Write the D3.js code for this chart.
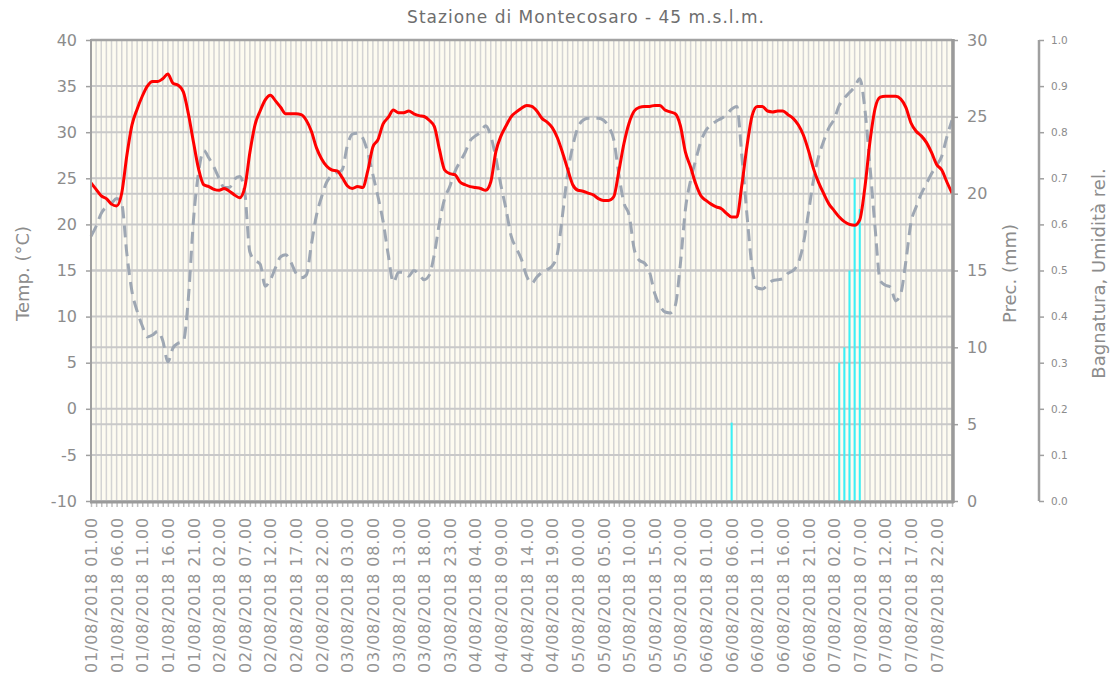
<!DOCTYPE html>
<html>
<head>
<meta charset="utf-8">
<script src="https://cdn.jsdelivr.net/npm/d3@7"></script>
<style>
  body { margin: 0; background: #fff; }
  svg { display: block; font-family: "DejaVu Sans", Verdana, sans-serif; }
</style>
</head>
<body>
<div id="chart"></div>
<script>
// hourly readings, 01/08/2018 01.00 -> 08/08/2018 01.00
const temperature = [
  24.5, 23.8, 23.1, 22.8, 22.2, 22.0, 23.4, 27.5, 30.8, 32.5,
  33.9, 35.0, 35.5, 35.5, 35.8, 36.3, 35.3, 35.1, 34.4, 32.0,
  28.9, 26.0, 24.3, 24.1, 23.8, 23.7, 23.9, 23.6, 23.2, 22.9,
  24.0, 27.8, 30.8, 32.3, 33.5, 34.0, 33.4, 32.7, 32.0, 32.0,
  32.0, 31.9, 31.3, 30.1, 28.3, 27.1, 26.3, 25.9, 25.8, 25.1,
  24.2, 23.9, 24.1, 24.0, 25.8, 28.4, 29.2, 30.9, 31.6, 32.4,
  32.1, 32.1, 32.3, 32.0, 31.8, 31.7, 31.3, 30.6, 28.1, 25.9,
  25.5, 25.4, 24.6, 24.3, 24.1, 24.0, 23.9, 23.7, 24.6, 27.9,
  29.6, 30.7, 31.7, 32.2, 32.6, 32.9, 32.8, 32.3, 31.5, 31.1,
  30.5, 29.4, 27.8, 26.0, 24.3, 23.7, 23.6, 23.4, 23.2, 22.8,
  22.6, 22.6, 23.0, 25.8, 28.8, 31.0, 32.3, 32.7, 32.8, 32.8,
  32.9, 32.9, 32.4, 32.2, 32.0, 30.7, 27.8, 26.2, 24.4, 23.1,
  22.6, 22.2, 21.9, 21.7, 21.2, 20.8, 20.8, 24.3, 28.5, 31.8,
  32.8, 32.8, 32.3, 32.2, 32.3, 32.3, 31.9, 31.5, 30.8, 29.7,
  28.0, 26.0, 24.5, 23.3, 22.2, 21.5, 20.8, 20.3, 20.0, 19.9,
  20.5, 24.0, 29.0, 32.6, 33.8, 33.9, 33.9, 33.9, 33.6, 32.7,
  31.0, 30.1, 29.6, 28.9, 27.8, 26.5, 25.9, 24.6, 23.4
];

const humidity = [
  0.574, 0.596, 0.624, 0.638, 0.646, 0.656, 0.644, 0.536, 0.454, 0.412,
  0.380, 0.356, 0.360, 0.368, 0.348, 0.302, 0.332, 0.342, 0.346, 0.440,
  0.610, 0.714, 0.760, 0.744, 0.724, 0.700, 0.680, 0.680, 0.698, 0.704,
  0.670, 0.540, 0.522, 0.514, 0.466, 0.480, 0.506, 0.530, 0.534, 0.518,
  0.494, 0.484, 0.490, 0.556, 0.620, 0.660, 0.692, 0.706, 0.712, 0.718,
  0.770, 0.796, 0.798, 0.788, 0.756, 0.708, 0.660, 0.606, 0.534, 0.474,
  0.496, 0.496, 0.488, 0.500, 0.492, 0.480, 0.490, 0.536, 0.604, 0.656,
  0.682, 0.714, 0.736, 0.756, 0.782, 0.792, 0.800, 0.814, 0.792, 0.744,
  0.684, 0.632, 0.574, 0.548, 0.524, 0.488, 0.472, 0.486, 0.496, 0.502,
  0.510, 0.536, 0.620, 0.710, 0.770, 0.810, 0.826, 0.830, 0.830, 0.830,
  0.826, 0.812, 0.784, 0.708, 0.646, 0.620, 0.546, 0.522, 0.516, 0.496,
  0.450, 0.424, 0.410, 0.408, 0.424, 0.514, 0.634, 0.696, 0.740, 0.780,
  0.804, 0.816, 0.824, 0.830, 0.838, 0.850, 0.856, 0.748, 0.620, 0.506,
  0.462, 0.460, 0.468, 0.478, 0.480, 0.482, 0.494, 0.500, 0.516, 0.558,
  0.626, 0.698, 0.748, 0.782, 0.810, 0.828, 0.858, 0.874, 0.886, 0.898,
  0.916, 0.850, 0.726, 0.592, 0.478, 0.468, 0.464, 0.434, 0.450, 0.520,
  0.604, 0.638, 0.666, 0.688, 0.710, 0.728, 0.748, 0.790, 0.826
];

const precHours = [
  "06/08/2018 06.00", "07/08/2018 03.00", "07/08/2018 04.00",
  "07/08/2018 05.00", "07/08/2018 06.00", "07/08/2018 07.00"
];
const precValues = [5.1, 9.0, 10.0, 15.0, 21.0, 19.0];

const tickLabels = [
  "01/08/2018 01.00", "01/08/2018 06.00", "01/08/2018 11.00", "01/08/2018 16.00", "01/08/2018 21.00",
  "02/08/2018 02.00", "02/08/2018 07.00", "02/08/2018 12.00", "02/08/2018 17.00", "02/08/2018 22.00",
  "03/08/2018 03.00", "03/08/2018 08.00", "03/08/2018 13.00", "03/08/2018 18.00", "03/08/2018 23.00",
  "04/08/2018 04.00", "04/08/2018 09.00", "04/08/2018 14.00", "04/08/2018 19.00",
  "05/08/2018 00.00", "05/08/2018 05.00", "05/08/2018 10.00", "05/08/2018 15.00", "05/08/2018 20.00",
  "06/08/2018 01.00", "06/08/2018 06.00", "06/08/2018 11.00", "06/08/2018 16.00", "06/08/2018 21.00",
  "07/08/2018 02.00", "07/08/2018 07.00", "07/08/2018 12.00", "07/08/2018 17.00", "07/08/2018 22.00"
];

const tempTicks = [-10, -5, 0, 5, 10, 15, 20, 25, 30, 35, 40];
const precTicks = [0, 5, 10, 15, 20, 25, 30];
const humTicks = [0, 0.1, 0.2, 0.3, 0.4, 0.5, 0.6, 0.7, 0.8, 0.9, 1.0];

const width = 1111;
const height = 675;
const plot = { left: 91, right: 952, top: 40, bottom: 501 };

const fmt = d3.timeFormat("%d/%m/%Y %H.%M");
const start = new Date(2018, 7, 1, 1);
const hours = temperature.map((_, i) => fmt(d3.timeHour.offset(start, i)));

const svg = d3.select("#chart")
  .append("svg")
  .attr("width", width)
  .attr("height", height);

const x = d3.scalePoint().domain(hours).range([plot.left, plot.right]);
const yTemp = d3.scaleLinear().domain([-10, 40]).range([plot.bottom, plot.top]);
const yPrec = d3.scaleLinear().domain([0, 30]).range([plot.bottom, plot.top]);
const yHum = d3.scaleLinear().domain([0, 1]).range([plot.bottom, plot.top]);

// plot background
svg.append("rect")
  .attr("x", plot.left)
  .attr("y", plot.top)
  .attr("width", plot.right - plot.left)
  .attr("height", plot.bottom - plot.top)
  .attr("fill", "#fdfbf0");

// vertical grid, one per hour
svg.append("g")
  .selectAll("line")
  .data(hours)
  .join("line")
  .attr("x1", (d) => x(d))
  .attr("x2", (d) => x(d))
  .attr("y1", plot.top)
  .attr("y2", plot.bottom)
  .attr("stroke", "#d3d3d3")
  .attr("stroke-width", 1.5);

// horizontal grid from both left and right axes
const hGrid = tempTicks.map((t) => yTemp(t)).concat(precTicks.map((p) => yPrec(p)));
svg.append("g")
  .selectAll("line")
  .data(hGrid)
  .join("line")
  .attr("x1", plot.left)
  .attr("x2", plot.right)
  .attr("y1", (d) => d)
  .attr("y2", (d) => d)
  .attr("stroke", "#c9c9c9")
  .attr("stroke-width", 2);

// precipitation bars
svg.append("g")
  .selectAll("rect")
  .data(precHours.map((h, i) => ({ h, v: precValues[i] })))
  .join("rect")
  .attr("x", (d) => x(d.h) - 1)
  .attr("y", (d) => yPrec(d.v))
  .attr("width", 2)
  .attr("height", (d) => yPrec(0) - yPrec(d.v))
  .attr("fill", "#38f2f8");

// humidity (dashed)
svg.append("path")
  .datum(humidity)
  .attr("fill", "none")
  .attr("stroke", "#9ea7b3")
  .attr("stroke-width", 3)
  .attr("stroke-dasharray", "12,7")
  .attr("d", d3.line()
    .x((d, i) => x(hours[i]))
    .y((d) => yHum(d))
    .curve(d3.curveMonotoneX));

// temperature
svg.append("path")
  .datum(temperature)
  .attr("fill", "none")
  .attr("stroke", "#ff0000")
  .attr("stroke-width", 3)
  .attr("stroke-linejoin", "round")
  .attr("d", d3.line()
    .x((d, i) => x(hours[i]))
    .y((d) => yTemp(d))
    .curve(d3.curveMonotoneX));

// frame
svg.append("line")
  .attr("x1", plot.left).attr("x2", plot.right)
  .attr("y1", plot.top).attr("y2", plot.top)
  .attr("stroke", "#a3a3a3").attr("stroke-width", 2.5);

function styleAxis(g, size) {
  g.select(".domain").remove();
  g.selectAll(".tick line").attr("stroke", "#a0a0a0").attr("stroke-width", 1.5);
  g.selectAll(".tick text")
    .attr("fill", "#8c8c8c")
    .style("font-size", size + "px")
    .style("font-family", "DejaVu Sans, Verdana, sans-serif");
}

// left temperature axis (plain hyphen for negatives, as in the original)
svg.append("g")
  .attr("transform", `translate(${plot.left},0)`)
  .call(d3.axisLeft(yTemp).tickValues(tempTicks).tickSize(5).tickPadding(9)
    .tickFormat((d) => String(d)))
  .call((g) => styleAxis(g, 16));
svg.append("line")
  .attr("x1", plot.left).attr("x2", plot.left)
  .attr("y1", plot.top - 1).attr("y2", plot.bottom)
  .attr("stroke", "#a0a0a0").attr("stroke-width", 2);

// right precipitation axis
svg.append("g")
  .attr("transform", `translate(${plot.right},0)`)
  .call(d3.axisRight(yPrec).tickValues(precTicks).tickSize(6).tickPadding(9))
  .call((g) => styleAxis(g, 16));
svg.append("line")
  .attr("x1", plot.right + 1).attr("x2", plot.right + 1)
  .attr("y1", plot.top - 1).attr("y2", plot.bottom + 2)
  .attr("stroke", "#9a9a9a").attr("stroke-width", 3.5);

// wetness / humidity axis
const humX = 1039;
svg.append("g")
  .attr("transform", `translate(${humX},0)`)
  .call(d3.axisRight(yHum).tickValues(humTicks).tickSize(5).tickPadding(7).tickFormat(d3.format(".1f")))
  .call((g) => styleAxis(g, 10.5));
svg.append("line")
  .attr("x1", humX).attr("x2", humX)
  .attr("y1", plot.top).attr("y2", plot.bottom)
  .attr("stroke", "#a0a0a0").attr("stroke-width", 2.5);

// bottom axis: hourly ticks + labels every 5 hours
svg.append("g")
  .attr("transform", `translate(0,${plot.bottom})`)
  .call(d3.axisBottom(x).tickSize(6).tickFormat(""))
  .call((g) => {
    g.select(".domain").remove();
    g.selectAll(".tick line").attr("stroke", "#bdbdbd").attr("stroke-width", 1.5);
  });

svg.append("g")
  .attr("transform", `translate(0,${plot.bottom})`)
  .call(d3.axisBottom(x).tickValues(tickLabels).tickSize(0))
  .call((g) => {
    g.select(".domain").remove();
    g.selectAll(".tick text")
      .attr("transform", "rotate(-90)")
      .attr("x", -16)
      .attr("y", 0)
      .attr("dy", "0.35em")
      .style("text-anchor", "end")
      .style("font-size", "16px")
      .style("letter-spacing", "0.8px")
      .style("font-family", "DejaVu Sans, Verdana, sans-serif")
      .attr("fill", "#969696");
  });

svg.append("line")
  .attr("x1", plot.left - 1).attr("x2", plot.right + 2)
  .attr("y1", plot.bottom + 1).attr("y2", plot.bottom + 1)
  .attr("stroke", "#9a9a9a").attr("stroke-width", 3);

// title
svg.append("text")
  .attr("x", 586)
  .attr("y", 23)
  .attr("text-anchor", "middle")
  .style("font-size", "17px")
  .style("letter-spacing", "1px")
  .attr("fill", "#6e6e6e")
  .text("Stazione di Montecosaro - 45 m.s.l.m.");

// axis titles
const midY = (plot.top + plot.bottom) / 2 + 3;
function axisTitle(cx, label) {
  svg.append("text")
    .attr("transform", `translate(${cx},${midY}) rotate(-90)`)
    .attr("text-anchor", "middle")
    .attr("dy", "0.35em")
    .style("font-size", "18px")
    .attr("fill", "#8c8c8c")
    .text(label);
}
axisTitle(23, "Temp. (°C)");
axisTitle(1010, "Prec. (mm)");
axisTitle(1099, "Bagnatura, Umidità rel.");
</script>
</body>
</html>
